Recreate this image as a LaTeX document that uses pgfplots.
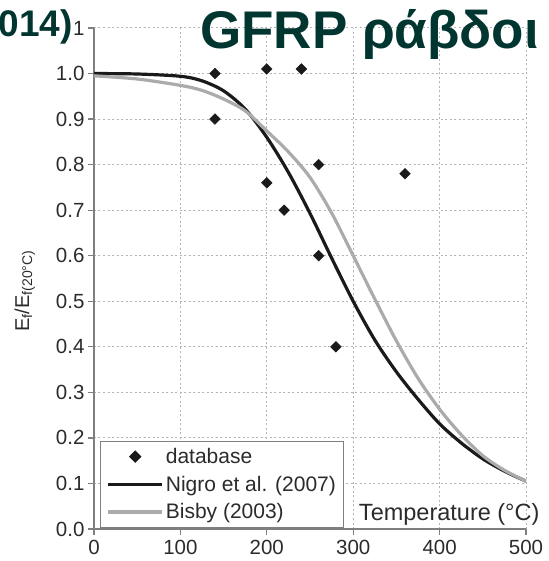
\documentclass[border=0pt]{standalone}
\usepackage{pgfplots}
\pgfplotsset{compat=1.18}
\usepackage{fontspec}
\setmainfont{Liberation Sans}
\definecolor{titlec}{HTML}{003530}
\definecolor{nigro}{HTML}{1A1A1A}
\definecolor{bisby}{HTML}{ABABAB}
\definecolor{axisc}{HTML}{7F7F7F}
\definecolor{gridc}{HTML}{B4B4B4}
\definecolor{tickc}{HTML}{2B2B2B}
\begin{document}
\begin{tikzpicture}
\path[use as bounding box] (-94pt,-32pt) rectangle (454pt,529pt);
\begin{axis}[
  at={(0pt,0pt)}, anchor=south west,
  scale only axis, width=432pt, height=501pt,
  xmin=0, xmax=500, ymin=0, ymax=1.1,
  axis x line=bottom, axis y line=left,
  axis line style={-, axisc, line width=1.3pt},
  xtick={0,100,200,300,400,500},
  ytick={0,0.1,0.2,0.3,0.4,0.5,0.6,0.7,0.8,0.9,1.0,1.1},
  tick style={axisc, line width=1.3pt}, tick align=outside, major tick length=6pt,
  grid=major, major grid style={gridc, line width=1pt, dash pattern=on 2pt off 2.5pt},
  ticklabel style={font=\fontsize{20.5}{24}\selectfont, text=tickc},
  xticklabel style={yshift=-2pt},
  /pgf/number format/assume math mode=true,
  yticklabel style={/pgf/number format/fixed, /pgf/number format/fixed zerofill, /pgf/number format/precision=1},
  xlabel={Temperature (°C)},
  xlabel style={at={(rel axis cs:1,0)}, anchor=base east, xshift=17pt, yshift=9pt, font=\fontsize{23.5}{28}\selectfont, text=tickc},
  ylabel={E\textsubscript{f}/E\textsubscript{f(20°C)}},
  ylabel style={at={(rel axis cs:-0.16,0.475)}, anchor=center, rotate=0, font=\fontsize{20}{24}\selectfont, text=tickc},
  legend image code/.code={\draw[mark repeat=2,mark phase=2,#1] plot coordinates {(5pt,0pt) (32pt,0pt) (59pt,0pt)};},
  legend style={at={(rel axis cs:0.014,0.002)}, anchor=south west, draw=axisc, line width=1.2pt,
    font=\fontsize{21}{26}\selectfont, text=tickc, inner xsep=6pt, inner ysep=5pt, row sep=7pt},
  legend cell align=left,
]
\addplot[only marks, mark=square*, mark size=3.8pt, mark options={rotate=45, fill=nigro, draw=nigro}, nigro]
coordinates {(140,1.0) (140,0.9) (200,1.01) (200,0.76) (220,0.70) (240,1.01) (260,0.80) (260,0.60) (280,0.40) (360,0.78)};
\addlegendentry{database}
\addplot[nigro, line width=3.2pt, smooth, no marks]
coordinates {(0,1.0) (50,0.999) (100,0.994) (125,0.984) (150,0.962) (175,0.922) (200,0.860) (225,0.783) (250,0.693) (275,0.595) (300,0.500) (325,0.415) (350,0.345) (375,0.285) (400,0.231) (425,0.189) (450,0.154) (475,0.127) (500,0.105)};
\addlegendentry{Nigro et al. (2007)}
\addplot[bisby, line width=3.2pt, smooth, no marks]
coordinates {(0,0.995) (50,0.988) (100,0.974) (125,0.963) (150,0.944) (175,0.918) (200,0.874) (225,0.828) (250,0.772) (275,0.694) (300,0.600) (325,0.505) (350,0.413) (375,0.331) (400,0.263) (425,0.207) (450,0.161) (475,0.129) (500,0.105)};
\addlegendentry{Bisby (2003)}
\end{axis}
\node[anchor=base west, font=\fontsize{53}{58}\selectfont\bfseries, text=titlec, inner sep=0pt] at (106pt,480pt) {GFRP ράβδοι};
\node[anchor=base east, font=\fontsize{37}{40}\selectfont\bfseries, text=titlec, fill=white, inner sep=1pt] at (-20pt,492pt) {014)};
\end{tikzpicture}
\end{document}
